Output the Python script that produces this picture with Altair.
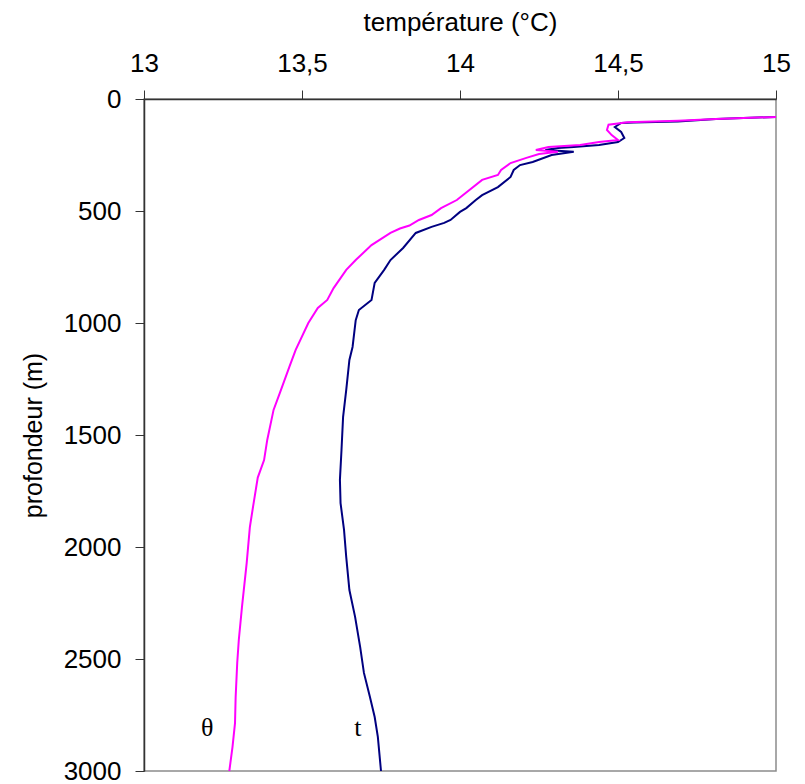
import altair as alt
import pandas as pd

# potential temperature theta (magenta)
theta_T = [15.0, 14.81, 14.69, 14.53, 14.47, 14.465, 14.48, 14.50, 14.44, 14.38, 14.28, 14.24,
           14.31, 14.25, 14.21, 14.16, 14.13, 14.12, 14.07, 13.99, 13.94, 13.91, 13.87, 13.84,
           13.81, 13.78, 13.72, 13.67, 13.64, 13.60, 13.58, 13.55, 13.52, 13.48, 13.46, 13.43,
           13.41, 13.39, 13.38, 13.36, 13.345, 13.335, 13.325, 13.31, 13.30, 13.295, 13.29,
           13.288, 13.28, 13.27]
theta_d = [80, 89, 97, 104, 115, 138, 161, 183, 192, 205, 214, 228,
           236, 246, 263, 286, 317, 339, 361, 451, 487, 518, 540, 565,
           578, 598, 652, 719, 763, 844, 897, 933, 1000, 1120, 1196, 1312,
           1388, 1522, 1612, 1690, 1821, 1911, 2071, 2268, 2415, 2518, 2670,
           2786, 2893, 3000]

# in situ temperature t (navy)
t_T = [15.0, 14.81, 14.69, 14.55, 14.51, 14.49, 14.51, 14.52, 14.50, 14.44, 14.36, 14.31,
       14.27, 14.36, 14.29, 14.23, 14.19, 14.17, 14.16, 14.12, 14.07, 14.05, 14.02, 14.0,
       13.97, 13.95, 13.91, 13.86, 13.82, 13.78, 13.76, 13.73, 13.72, 13.68, 13.67, 13.66,
       13.65, 13.64, 13.63, 13.625, 13.62, 13.622, 13.633, 13.64, 13.65, 13.668, 13.684,
       13.696, 13.715, 13.73, 13.74, 13.75]
t_d = [80, 89, 100, 105, 107, 125, 147, 174, 192, 205, 214, 219,
       228, 236, 250, 281, 295, 317, 348, 393, 429, 451, 487, 504,
       540, 553, 571, 598, 665, 719, 763, 821, 897, 942, 987, 1107,
       1165, 1299, 1420, 1567, 1700, 1804, 1924, 2045, 2192, 2312, 2446,
       2562, 2670, 2759, 2848, 3000]

label_text = ["θ", "t"]
label_T = [13.2, 13.677]
label_d = [2808, 2808]

x_ticks = [13, 13.5, 14, 14.5, 15]
y_ticks = [0, 500, 1000, 1500, 2000, 2500, 3000]

df_theta = pd.DataFrame({"T": theta_T, "d": theta_d, "i": range(len(theta_T))})
df_t = pd.DataFrame({"T": t_T, "d": t_d, "i": range(len(t_T))})
df_lab = pd.DataFrame({"T": label_T, "d": label_d, "label": label_text})

FONT = "Liberation Sans"

x_enc = alt.X(
    "T:Q",
    scale=alt.Scale(domain=[13, 15], nice=False, zero=False),
    axis=alt.Axis(
        orient="top", values=x_ticks, title="température (°C)",
        labelExpr="replace(format(datum.value, '~g'), '.', ',')",
        labelFont=FONT, labelFontSize=26, labelColor="black",
        labelBaseline="alphabetic", labelPadding=19, labelFlush=False, labelOverlap=False,
        titleFont=FONT, titleFontSize=26, titleFontWeight="normal", titleColor="black",
        titleX=316, titleY=-69, titleAlign="center", titleBaseline="alphabetic",
        tickSize=9, tickColor="#333333", domainColor="#333333", domainWidth=1.5,
        grid=False, zindex=1,
    ),
)
y_enc = alt.Y(
    "d:Q",
    scale=alt.Scale(domain=[0, 3000], reverse=True, nice=False, zero=False),
    axis=alt.Axis(
        orient="left", values=y_ticks, title="profondeur (m)", format="d",
        labelFont=FONT, labelFontSize=26, labelColor="black",
        labelPadding=14, labelFlush=False, labelOverlap=False,
        titleFont=FONT, titleFontSize=25, titleFontWeight="normal", titleColor="black",
        titleX=-103, titleY=336, titleAngle=-90, titleAlign="center", titleBaseline="alphabetic",
        tickSize=9, tickColor="#333333", domainColor="#333333", domainWidth=1.5,
        grid=False, zindex=1,
    ),
)

line_t = alt.Chart(df_t).mark_line(color="#000080", strokeWidth=2).encode(
    x=x_enc, y=y_enc, order="i:Q"
)
line_theta = alt.Chart(df_theta).mark_line(color="#FF00FF", strokeWidth=2).encode(
    x=x_enc, y=y_enc, order="i:Q"
)
labels = alt.Chart(df_lab).mark_text(
    font="Liberation Serif", fontSize=26, color="black", align="center", baseline="middle"
).encode(x=x_enc, y=y_enc, text="label:N")

chart = alt.layer(line_t, line_theta, labels).properties(
    width=632, height=672, autosize="none",
    padding={"left": 136, "top": 91, "right": 18, "bottom": 14},
    background="white",
).configure_view(stroke="#8c8c8c", strokeWidth=1.5)

chart.save("out.html", embed_options={"renderer": "svg", "actions": False})
